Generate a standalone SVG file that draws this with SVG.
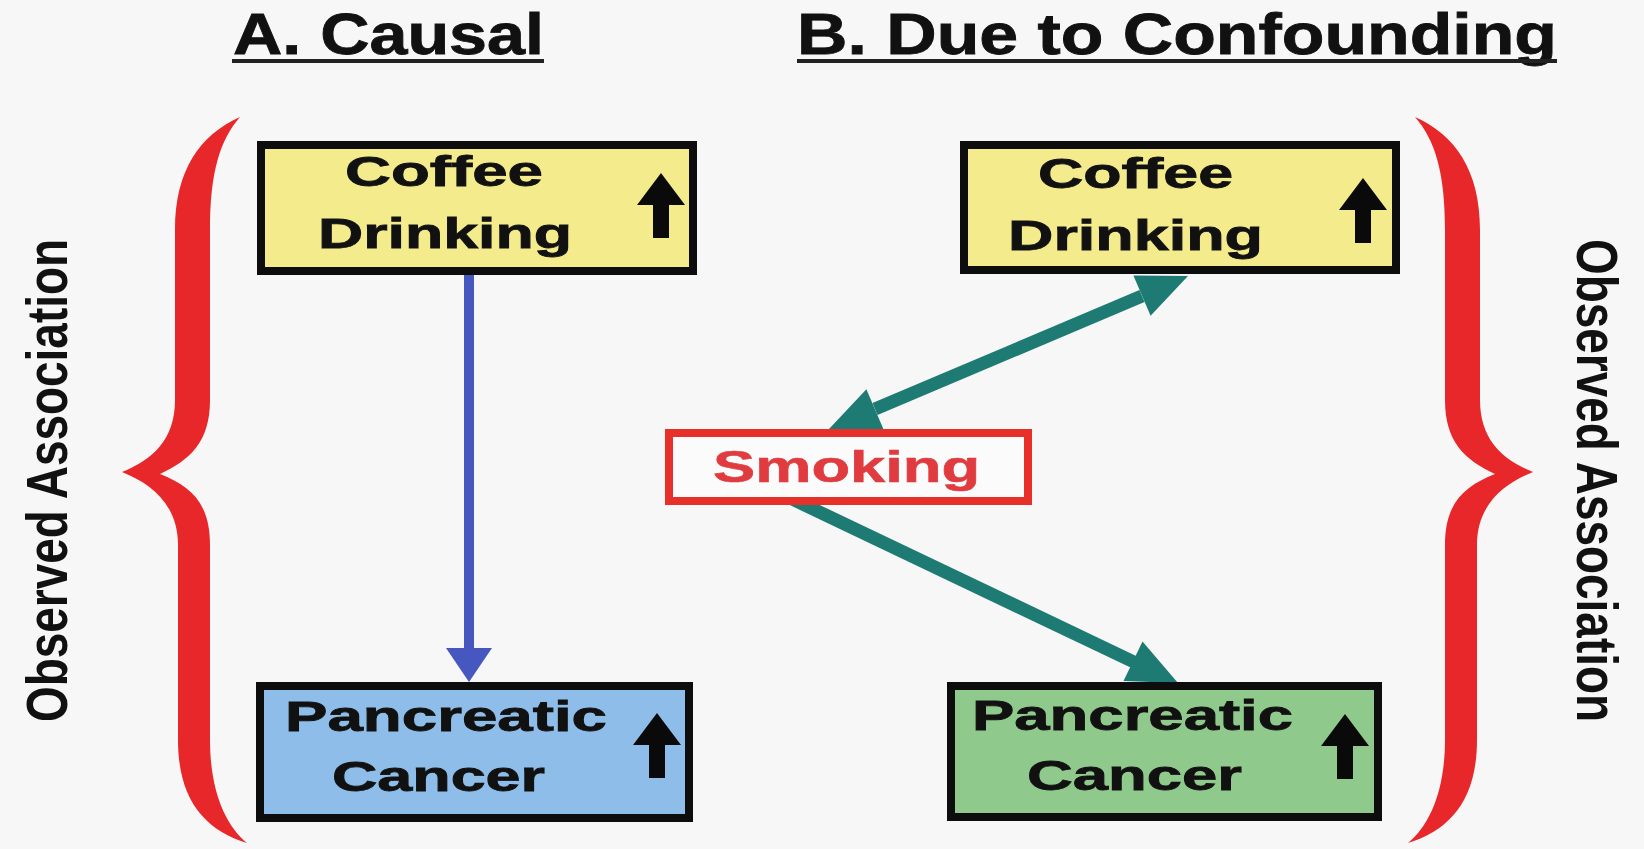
<svg xmlns="http://www.w3.org/2000/svg" width="1644" height="849" viewBox="0 0 1644 849">
<style>
.t{font-family:"Liberation Sans",Arial,sans-serif;font-weight:bold;fill:#111;stroke:#111;stroke-width:0.8}
.title{font-size:57px}
.lbl{font-size:42px}
.side{font-family:"Liberation Sans",Arial,sans-serif;font-weight:bold;font-size:58px;fill:#111}
.box{stroke:#0d0d0d;stroke-width:8}
.brace{fill:#e8272b}
.teal{stroke:#1e7b73;stroke-width:13;fill:none}
.tealh{fill:#1e7b73}
</style>
<defs>
<path id="up" d="M0,0 L24,32 L8,32 L8,65 L-8,65 L-8,32 L-24,32 Z" fill="#0a0a0a"/>
<path id="brace" class="brace" d="M240,117 C200,135 175,170 175,230 L175,400 C175,440 152,460 122,472 C152,484 178,505 178,545 L178,740 C178,800 205,830 247,843 C225,825 210,790 210,740 L210,545 C210,502 190,486 160,474 C190,460 210,442 210,400 L210,230 C210,172 220,140 240,117 Z"/>
</defs>
<rect width="1644" height="849" fill="#f7f7f7"/>

<g id="titles">
<text class="t title" x="233" y="54" textLength="311" lengthAdjust="spacingAndGlyphs">A. Causal</text>
<rect x="232" y="59" width="312" height="4" fill="#222"/>
<text class="t title" x="797" y="54" textLength="760" lengthAdjust="spacingAndGlyphs">B. Due to Confounding</text>
<rect x="797" y="59" width="760" height="4" fill="#222"/>
</g>

<g id="brace-left">
<use href="#brace"/>
<text class="side" transform="translate(67,722) rotate(-90)" x="0" y="0" textLength="483" lengthAdjust="spacingAndGlyphs">Observed Association</text>
</g>
<g id="brace-right">
<use href="#brace" transform="translate(1655,0) scale(-1,1)"/>
<text class="side" transform="translate(1577,239) rotate(90)" x="0" y="0" textLength="483" lengthAdjust="spacingAndGlyphs">Observed Association</text>
</g>

<g id="connectors">
<line x1="469" y1="270" x2="469" y2="652" stroke="#4658c0" stroke-width="10"/>
<polygon points="446,648 492,648 469,682" fill="#4658c0"/>
<line class="teal" x1="875" y1="409" x2="1142" y2="296"/>
<polygon class="tealh" points="1188,276 1150.6,315.8 1133.4,275.4"/>
<polygon class="tealh" points="829,429 866.4,389.2 883.6,429.6"/>
<line class="teal" x1="790" y1="498" x2="1136" y2="663"/>
<polygon class="tealh" points="1178,683 1123.5,681.1 1142.5,641.5"/>
</g>

<g id="coffee-a">
<rect class="box" x="261" y="145" width="432" height="126" fill="#f4eb8d"/>
<text class="t lbl" x="345" y="186" textLength="198" lengthAdjust="spacingAndGlyphs">Coffee</text>
<text class="t lbl" x="318" y="248" textLength="254" lengthAdjust="spacingAndGlyphs">Drinking</text>
<use href="#up" x="661" y="173"/>
</g>

<g id="pancreatic-a">
<rect class="box" x="260" y="686" width="429" height="132" fill="#8dbde8"/>
<text class="t lbl" x="285" y="731" textLength="322" lengthAdjust="spacingAndGlyphs">Pancreatic</text>
<text class="t lbl" x="332" y="791" textLength="213" lengthAdjust="spacingAndGlyphs">Cancer</text>
<use href="#up" x="657" y="713"/>
</g>

<g id="coffee-b">
<rect class="box" x="964" y="145" width="432" height="125" fill="#f4eb8d"/>
<text class="t lbl" x="1038" y="188" textLength="195" lengthAdjust="spacingAndGlyphs">Coffee</text>
<text class="t lbl" x="1008" y="250" textLength="255" lengthAdjust="spacingAndGlyphs">Drinking</text>
<use href="#up" x="1363" y="178"/>
</g>

<g id="pancreatic-b">
<rect class="box" x="951" y="686" width="427" height="131" fill="#90c98c"/>
<text class="t lbl" x="972" y="730" textLength="321" lengthAdjust="spacingAndGlyphs">Pancreatic</text>
<text class="t lbl" x="1027" y="790" textLength="215" lengthAdjust="spacingAndGlyphs">Cancer</text>
<use href="#up" x="1345" y="714"/>
</g>

<g id="smoking">
<rect x="669" y="433" width="359" height="68" fill="#fbfbfb" stroke="#e8302a" stroke-width="8"/>
<text x="713" y="482" textLength="267" lengthAdjust="spacingAndGlyphs" style="font-family:'Liberation Sans',Arial,sans-serif;font-weight:bold;font-size:44px;fill:#e03c40;stroke:#e03c40;stroke-width:0.6">Smoking</text>
</g>
</svg>
